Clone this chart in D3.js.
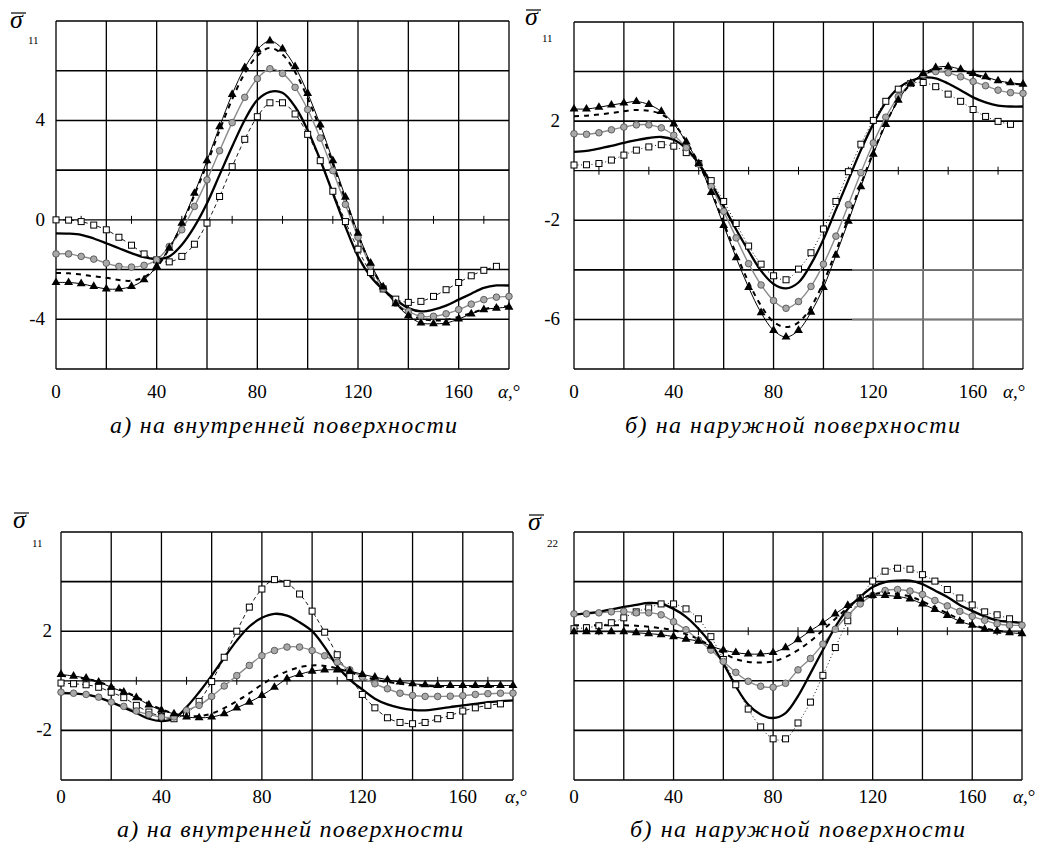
<!DOCTYPE html>
<html>
<head>
<meta charset="utf-8">
<script src="https://cdn.jsdelivr.net/npm/d3@7"></script>
<style>
  body { margin: 0; background: #fff; }
  svg text { font-family: "Times New Roman", Times, "Liberation Serif", "DejaVu Serif", serif; }
</style>
</head>
<body>
<div id="vis"></div>
<script>
// angle alpha, degrees
const alpha = [0,5,10,15,20,25,30,35,40,45,50,55,60,65,70,75,80,85,90,95,100,105,110,115,120,125,130,135,140,145,150,155,160,165,170,175,180]
const xGrid = [0,20,40,60,80,100,120,140,160,180]
const xTickLabels = [0,40,80,120,160]
const minorTicks = [10,30,50,70,90,110,130,150,170]

// a) inner surface, sigma 11
const p1Solid = [-0.54,-0.55,-0.6,-0.75,-0.94,-1.14,-1.34,-1.5,-1.58,-1.47,-1.0,-0.27,0.67,1.81,2.95,4.02,4.82,5.15,5.11,4.55,3.61,2.41,1.07,-0.27,-1.47,-2.28,-2.81,-3.21,-3.55,-3.68,-3.61,-3.45,-3.21,-2.97,-2.74,-2.64,-2.64]
const p1Dashed = [-2.14,-2.15,-2.2,-2.27,-2.33,-2.42,-2.45,-2.3,-1.9,-1.15,-0.2,1.0,2.25,3.6,4.85,5.9,6.6,6.92,6.65,5.95,4.9,3.65,2.25,0.8,-0.6,-1.8,-2.72,-3.35,-3.78,-3.98,-4.05,-4.02,-3.9,-3.75,-3.6,-3.5,-3.48]
const p1Circle = [-1.37,-1.37,-1.47,-1.58,-1.74,-1.87,-1.9,-1.83,-1.61,-1.07,-0.4,0.54,1.61,2.78,3.91,4.93,5.68,6.08,5.89,5.33,4.44,3.29,1.98,0.62,-0.7,-1.87,-2.76,-3.35,-3.68,-3.88,-3.88,-3.78,-3.61,-3.39,-3.21,-3.11,-3.08]
const p1Square = [0,-0.01,-0.07,-0.21,-0.4,-0.7,-1.02,-1.37,-1.61,-1.69,-1.47,-0.98,-0.13,0.94,2.14,3.24,4.15,4.71,4.71,4.26,3.44,2.38,1.15,-0.07,-1.18,-2.12,-2.78,-3.19,-3.32,-3.28,-3.08,-2.81,-2.52,-2.25,-2.03,-1.87]
const p1Triangle = [-2.52,-2.52,-2.57,-2.68,-2.78,-2.78,-2.68,-2.41,-1.87,-1.14,-0.13,1.07,2.38,3.75,5.05,6.12,6.85,7.2,6.88,6.16,5.09,3.82,2.38,0.91,-0.54,-1.74,-2.7,-3.37,-3.86,-4.15,-4.18,-4.15,-3.99,-3.78,-3.61,-3.55,-3.51]

// б) outer surface, sigma 11
const p2Solid = [0.76,0.8,0.89,1.0,1.12,1.23,1.32,1.36,1.25,0.89,0.29,-0.51,-1.44,-2.37,-3.24,-4.04,-4.57,-4.75,-4.51,-3.77,-2.77,-1.57,-0.37,0.83,1.89,2.76,3.33,3.63,3.76,3.73,3.52,3.25,2.96,2.76,2.63,2.59,2.59]
const p2Dashed = [2.2,2.22,2.27,2.33,2.4,2.45,2.42,2.28,1.9,1.18,0.3,-0.82,-2.1,-3.35,-4.5,-5.45,-6.1,-6.31,-6.12,-5.5,-4.5,-3.25,-1.9,-0.55,0.75,1.9,2.85,3.5,3.88,4.08,4.12,4.02,3.88,3.74,3.6,3.52,3.47]
const p2Circle = [1.49,1.47,1.53,1.65,1.76,1.85,1.85,1.73,1.43,0.93,0.27,-0.64,-1.64,-2.71,-3.75,-4.61,-5.24,-5.55,-5.28,-4.67,-3.77,-2.64,-1.37,-0.08,1.12,2.16,2.99,3.52,3.87,4.0,3.95,3.79,3.6,3.43,3.25,3.15,3.12]
const p2Square = [0.23,0.24,0.29,0.43,0.63,0.83,0.96,1.05,0.99,0.73,0.29,-0.4,-1.24,-2.13,-3.04,-3.77,-4.24,-4.4,-3.97,-3.31,-2.35,-1.24,-0.04,1.07,2.03,2.8,3.29,3.52,3.56,3.39,3.09,2.8,2.47,2.19,1.99,1.87]
const p2Triangle = [2.49,2.49,2.56,2.65,2.73,2.79,2.67,2.39,1.89,1.16,0.29,-0.88,-2.21,-3.51,-4.71,-5.73,-6.44,-6.71,-6.44,-5.71,-4.71,-3.41,-2.04,-0.64,0.67,1.87,2.85,3.52,3.92,4.16,4.2,4.09,3.92,3.79,3.63,3.55,3.49]

// a) inner surface, sigma 11 (second figure)
const p3Solid = [-0.5,-0.51,-0.55,-0.68,-0.86,-1.08,-1.3,-1.53,-1.62,-1.53,-1.06,-0.46,0.21,0.93,1.62,2.19,2.54,2.7,2.63,2.36,2.0,1.36,0.6,0.05,-0.35,-0.72,-0.95,-1.09,-1.17,-1.19,-1.13,-1.06,-0.99,-0.93,-0.86,-0.82,-0.79]
const p3Dashed = [0.2,0.15,0.08,-0.05,-0.22,-0.42,-0.65,-0.92,-1.15,-1.32,-1.42,-1.42,-1.32,-1.1,-0.82,-0.5,-0.15,0.15,0.38,0.55,0.62,0.6,0.5,0.35,0.18,0.05,-0.05,-0.12,-0.17,-0.2,-0.22,-0.22,-0.22,-0.22,-0.22,-0.22,-0.22]
const p3Circle = [-0.46,-0.5,-0.55,-0.66,-0.86,-1.03,-1.22,-1.36,-1.46,-1.46,-1.19,-0.99,-0.63,-0.21,0.21,0.62,1.01,1.22,1.36,1.36,1.22,1.01,0.75,0.44,0.15,-0.12,-0.32,-0.5,-0.59,-0.63,-0.63,-0.62,-0.6,-0.55,-0.52,-0.5,-0.5]
const p3Square = [-0.09,-0.12,-0.16,-0.26,-0.46,-0.68,-0.99,-1.26,-1.44,-1.53,-1.3,-0.83,-0.03,0.95,2.0,2.97,3.7,4.08,3.93,3.5,2.81,1.96,1.05,0.17,-0.55,-1.09,-1.49,-1.68,-1.73,-1.68,-1.53,-1.4,-1.22,-1.09,-0.99,-0.93]
const p3Triangle = [0.26,0.19,0.11,-0.05,-0.26,-0.46,-0.68,-0.97,-1.19,-1.33,-1.46,-1.49,-1.46,-1.33,-1.09,-0.86,-0.59,-0.26,0.08,0.26,0.39,0.44,0.44,0.39,0.26,0.15,0.04,-0.05,-0.12,-0.16,-0.19,-0.19,-0.19,-0.19,-0.19,-0.19,-0.19]

// б) outer surface, sigma 22 (no value labels in the source, one grid step = 1)
const p4Solid = [0.33,0.36,0.39,0.44,0.49,0.53,0.57,0.55,0.45,0.29,0.05,-0.25,-0.65,-1.11,-1.48,-1.68,-1.75,-1.65,-1.31,-0.85,-0.38,0.09,0.45,0.69,0.89,0.99,1.02,1.02,0.95,0.82,0.69,0.53,0.41,0.3,0.22,0.19,0.17]
const p4Dashed = [0.12,0.12,0.12,0.12,0.12,0.11,0.09,0.06,0.02,-0.06,-0.16,-0.3,-0.44,-0.56,-0.62,-0.63,-0.61,-0.52,-0.38,-0.2,0.02,0.25,0.47,0.64,0.74,0.77,0.75,0.7,0.6,0.48,0.36,0.24,0.14,0.06,0.01,-0.02,-0.04]
const p4Circle = [0.35,0.35,0.37,0.39,0.4,0.37,0.37,0.33,0.19,0.03,-0.18,-0.38,-0.61,-0.83,-1.01,-1.11,-1.13,-1.05,-0.78,-0.55,-0.26,0.04,0.32,0.55,0.72,0.82,0.84,0.81,0.74,0.62,0.51,0.4,0.3,0.22,0.15,0.12,0.12]
const p4Square = [0.05,0.07,0.11,0.17,0.27,0.39,0.47,0.55,0.55,0.45,0.25,-0.11,-0.57,-1.08,-1.57,-1.93,-2.17,-2.17,-1.85,-1.43,-0.89,-0.33,0.21,0.67,1.01,1.21,1.27,1.25,1.14,1.01,0.84,0.67,0.53,0.39,0.33,0.25]
const p4Triangle = [-0.01,-0.01,-0.01,-0.01,-0.01,-0.03,-0.05,-0.07,-0.11,-0.16,-0.2,-0.3,-0.38,-0.43,-0.46,-0.46,-0.43,-0.33,-0.17,0.01,0.17,0.35,0.52,0.65,0.72,0.72,0.7,0.65,0.55,0.44,0.32,0.2,0.12,0.04,0,-0.03,-0.05]

const captionA = "а) на внутренней поверхности"
const captionB = "б)  на наружной поверхности"

const panels = [
  { left: 56, right: 509, top: 21, bottom: 369, yDomain: [-6, 8], yStep: 2, yLabels: [4, 0, -4], labelGap: 11,
    sub: "11", sigmaX: 10, sigmaY: 28, subX: 28, subY: 44, xLabelY: 398, alphaX: 498,
    caption: captionA, capX: 110, capW: 347, capY: 433, squareDash: "4,3",
    solid: p1Solid, dashed: p1Dashed, circle: p1Circle, square: p1Square, triangle: p1Triangle },
  { left: 574, right: 1023, top: 22, bottom: 369, yDomain: [-8, 6], yStep: 2, yLabels: [2, -2, -6], labelGap: 14,
    sub: "11", sigmaX: 525, sigmaY: 25, subX: 542, subY: 42, xLabelY: 398, alphaX: 1003,
    caption: captionB, capX: 625, capW: 335, capY: 433, squareDash: "1,2.5", greyCorner: true,
    solid: p2Solid, dashed: p2Dashed, circle: p2Circle, square: p2Square, triangle: p2Triangle },
  { left: 61, right: 513, top: 532, bottom: 780, yDomain: [-4, 6], yStep: 2, yLabels: [2, -2], labelGap: 9,
    sub: "11", sigmaX: 13, sigmaY: 528, subX: 32, subY: 547, xLabelY: 803, alphaX: 505,
    caption: captionA, capX: 117, capW: 346, capY: 837, squareDash: "4,3",
    solid: p3Solid, dashed: p3Dashed, circle: p3Circle, square: p3Square, triangle: p3Triangle },
  { left: 574, right: 1022, top: 532, bottom: 780, yDomain: [-3, 2], yStep: 1, yLabels: [], labelGap: 12,
    sub: "22", sigmaX: 528, sigmaY: 530, subX: 547, subY: 547, xLabelY: 803, alphaX: 1013,
    caption: captionB, capX: 630, capW: 335, capY: 837, squareDash: "1,2.5",
    solid: p4Solid, dashed: p4Dashed, circle: p4Circle, square: p4Square, triangle: p4Triangle }
]

const svg = d3.select("#vis").append("svg")
  .attr("width", 1047)
  .attr("height", 860)
  .style("display", "block")

function drawPanel(p) {
  const g = svg.append("g")
  const x = d3.scaleLinear().domain([0, 180]).range([p.left, p.right])
  const y = d3.scaleLinear().domain(p.yDomain).range([p.bottom, p.top])
  const yGrid = d3.range(p.yDomain[0], p.yDomain[1] + 0.001, p.yStep)

  // grid
  g.selectAll(".vg").data(xGrid).join("line")
    .attr("x1", d => x(d)).attr("x2", d => x(d))
    .attr("y1", p.top).attr("y2", p.bottom)
    .attr("stroke", "#000").attr("stroke-width", 1.3)
  g.selectAll(".hg").data(yGrid).join("line")
    .attr("x1", p.left).attr("x2", p.right)
    .attr("y1", d => y(d)).attr("y2", d => y(d))
    .attr("stroke", "#000").attr("stroke-width", d => d === 0 ? 1.3 : 1.6)

  // the scanned original has lighter lines in one corner
  if (p.greyCorner) {
    g.selectAll(".gh").data([-4, -6]).join("line")
      .attr("x1", x(111.5)).attr("x2", p.right)
      .attr("y1", d => y(d)).attr("y2", d => y(d))
      .attr("stroke", "#7a7a7a").attr("stroke-width", 1.6)
    g.selectAll(".gv").data([120, 140, 160, 180]).join("line")
      .attr("x1", d => x(d)).attr("x2", d => x(d))
      .attr("y1", y(-4)).attr("y2", p.bottom - 1)
      .attr("stroke", "#7a7a7a").attr("stroke-width", 1.3)
  }

  // minor ticks on the zero line
  g.selectAll(".mt").data(minorTicks).join("line")
    .attr("x1", d => x(d)).attr("x2", d => x(d))
    .attr("y1", y(0) - 4).attr("y2", y(0) + 4)
    .attr("stroke", "#000").attr("stroke-width", 1)

  // tick labels
  g.selectAll(".yl").data(p.yLabels).join("text")
    .attr("x", p.left - p.labelGap).attr("y", d => y(d) + 6)
    .attr("text-anchor", "end").attr("font-size", 19)
    .text(d => d)
  g.selectAll(".xl").data(xTickLabels).join("text")
    .attr("x", d => x(d)).attr("y", p.xLabelY)
    .attr("text-anchor", "middle").attr("font-size", 19)
    .text(d => d)
  const al = g.append("text").attr("x", p.alphaX).attr("y", p.xLabelY).attr("font-size", 19)
  al.append("tspan").attr("font-style", "italic").text("α")
  al.append("tspan").text(",°")

  // sigma label
  g.append("text").attr("x", p.sigmaX).attr("y", p.sigmaY)
    .attr("font-size", 26).attr("font-style", "italic").text("σ")
  g.append("line")
    .attr("x1", p.sigmaX + 1).attr("x2", p.sigmaX + 16)
    .attr("y1", p.sigmaY - 15).attr("y2", p.sigmaY - 15)
    .attr("stroke", "#000").attr("stroke-width", 1.2)
  g.append("text").attr("x", p.subX).attr("y", p.subY)
    .attr("font-size", 11).text(p.sub)

  // caption
  g.append("text").attr("x", p.capX).attr("y", p.capY)
    .attr("font-size", 24).attr("font-style", "italic")
    .attr("textLength", p.capW).attr("lengthAdjust", "spacing")
    .text(p.caption)

  // curves
  const line = d3.line()
    .x((d, i) => x(alpha[i]))
    .y(d => y(d))
    .curve(d3.curveCatmullRom.alpha(0.5))

  g.append("path").attr("d", line(p.square)).attr("fill", "none")
    .attr("stroke", "#000").attr("stroke-width", 0.9).attr("stroke-dasharray", p.squareDash)
  g.append("path").attr("d", line(p.circle)).attr("fill", "none")
    .attr("stroke", "#8c8c8c").attr("stroke-width", 1.4)
  g.append("path").attr("d", line(p.triangle)).attr("fill", "none")
    .attr("stroke", "#000").attr("stroke-width", 1)
  g.append("path").attr("d", line(p.solid)).attr("fill", "none")
    .attr("stroke", "#000").attr("stroke-width", 2.3)
  g.append("path").attr("d", line(p.dashed)).attr("fill", "none")
    .attr("stroke", "#000").attr("stroke-width", 2).attr("stroke-dasharray", "5,5")

  // markers
  g.selectAll(".sq").data(p.square).join("rect")
    .attr("x", (d, i) => x(alpha[i]) - 3).attr("y", d => y(d) - 3)
    .attr("width", 6).attr("height", 6)
    .attr("fill", "#fff").attr("stroke", "#000").attr("stroke-width", 1)
  g.selectAll(".ci").data(p.circle).join("circle")
    .attr("cx", (d, i) => x(alpha[i])).attr("cy", d => y(d))
    .attr("r", 3.3)
    .attr("fill", "#a9a9a9").attr("stroke", "#555").attr("stroke-width", 0.9)
  const tri = d3.symbol(d3.symbolTriangle, 34)
  g.selectAll(".tr").data(p.triangle).join("path")
    .attr("transform", (d, i) => `translate(${x(alpha[i])},${y(d)})`)
    .attr("d", tri)
    .attr("fill", "#000")
}

panels.forEach(drawPanel)
</script>
</body>
</html>
